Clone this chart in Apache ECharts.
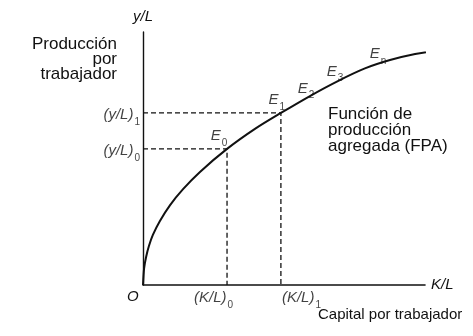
<!DOCTYPE html>
<html>
<head>
<meta charset="utf-8">
<script src="https://cdn.jsdelivr.net/npm/echarts@6/dist/echarts.min.js"></script>
<style>
  html, body { margin: 0; padding: 0; background: #fff; }
  #main { width: 473px; height: 336px; }
</style>
</head>
<body>
<div id="main"></div>
<script>
// Curva de la función de producción agregada (K/L, y/L)
const capital = [0, 0.4, 1.1, 2.1, 3.5, 6.0, 9.6, 14.2, 20.2, 29.8, 39.7, 48.9, 59.2, 69.1, 78.7, 87.6, 96.5, 106];
const output = [0, 6.7, 11.1, 15.4, 19.8, 25.3, 31.6, 37.9, 44.7, 53.8, 61.7, 68.0, 74.7, 80.6, 85.6, 88.9, 91.3, 92.9];

// Puntos E0, E1 con sus líneas de referencia
const kLevels = [29.8, 48.9];
const yLevels = [53.8, 68.0];
const levelSubs = ['0', '1'];

// Etiquetas de la curva E2, E3, En
const curveMarks = [[55.7, 72.5, '2'], [66.3, 79.2, '3'], [81.2, 86.6, 'n']];

const mathFont = 'Liberation Sans, Arial, sans-serif';
const sub = {
  m: { fontFamily: mathFont, fontStyle: 'italic', fontSize: 15, color: '#111', lineHeight: 18 },
  s: { fontFamily: mathFont, fontSize: 10, color: '#111', lineHeight: 10, verticalAlign: 'bottom', padding: [0, 0, -3, 1] }
};

const chart = echarts.init(document.getElementById('main'));

const guideSeries = kLevels.map((k, i) => ({
  type: 'line',
  data: [[0, yLevels[i]], [k, yLevels[i]], [k, 0]],
  symbol: 'none',
  silent: true,
  lineStyle: { color: '#111', width: 1.3, type: [5, 3] },
  z: 2
}));

const eLabelOffsets = [[-8, -13], [-4, -13]];
const curveOffsets = [[6, -13], [5, -13], [6, -12]];

const labelPoints = [];
kLevels.forEach((k, i) => {
  labelPoints.push({
    value: [k, yLevels[i]],
    label: { formatter: '{m|E}{s|' + levelSubs[i] + '}', offset: eLabelOffsets[i] }
  });
  // (y/L)i a la izquierda del eje
  labelPoints.push({
    value: [0, yLevels[i]],
    label: { formatter: '{m|(y/L)}{s|' + levelSubs[i] + '}', position: 'left', distance: 3, offset: [0, 2] }
  });
});
labelPoints.push({
  value: [kLevels[0], 0],
  label: { formatter: '{m|(K/L)}{s|0}', position: 'left', distance: -6, offset: [0, 13] }
});
labelPoints.push({
  value: [kLevels[1], 0],
  label: { formatter: '{m|(K/L)}{s|1}', position: 'right', distance: 1, offset: [0, 13] }
});
curveMarks.forEach((m, i) => {
  labelPoints.push({
    value: [m[0], m[1]],
    label: { formatter: '{m|E}{s|' + m[2] + '}', offset: curveOffsets[i] }
  });
});

const option = {
  animation: false,
  backgroundColor: '#fff',
  grid: { left: 143, right: 48, top: 32, bottom: 51 },
  xAxis: {
    type: 'value', min: 0, max: 100,
    name: 'K/L', nameLocation: 'end', nameGap: 6,
    nameTextStyle: { fontFamily: mathFont, fontStyle: 'italic', fontSize: 15, color: '#111', padding: [0, 0, 4, 0] },
    axisLine: { lineStyle: { color: '#111', width: 1.6 } },
    axisTick: { show: false }, axisLabel: { show: false }, splitLine: { show: false }
  },
  yAxis: {
    type: 'value', min: 0, max: 100,
    name: 'y/L', nameLocation: 'end', nameGap: 8,
    nameTextStyle: { fontFamily: mathFont, fontStyle: 'italic', fontSize: 15, color: '#111', align: 'center' },
    axisLine: { lineStyle: { color: '#111', width: 1.4 } },
    axisTick: { show: false }, axisLabel: { show: false }, splitLine: { show: false }
  },
  series: [
    {
      type: 'line',
      name: 'FPA',
      data: capital.map((k, i) => [k, output[i]]),
      smooth: 0.3,
      symbol: 'none',
      clip: false,
      lineStyle: { color: '#111', width: 2 },
      z: 3
    },
    ...guideSeries,
    {
      type: 'scatter',
      data: labelPoints,
      symbolSize: 0,
      silent: true,
      clip: false,
      label: { show: true, position: 'inside', rich: sub },
      z: 4
    }
  ],
  graphic: [
    {
      type: 'text', x: 117, y: 37,
      style: {
        text: 'Producción\npor\ntrabajador', fill: '#111', textAlign: 'right',
        font: '17px Liberation Sans, Arial, sans-serif', lineHeight: 15
      }
    },
    {
      type: 'text', x: 328, y: 106,
      style: {
        text: 'Función de\nproducción\nagregada (FPA)', fill: '#111', textAlign: 'left',
        font: '17px Liberation Sans, Arial, sans-serif', lineHeight: 16
      }
    },
    {
      type: 'text', x: 318, y: 307,
      style: {
        text: 'Capital por trabajador', fill: '#111', textAlign: 'left',
        font: '15px Liberation Sans, Arial, sans-serif'
      }
    },
    {
      type: 'text', x: 127, y: 289,
      style: { text: 'O', fill: '#111', font: 'italic 15px Liberation Sans, Arial, sans-serif' }
    }
  ]
};

chart.setOption(option);
</script>
</body>
</html>
